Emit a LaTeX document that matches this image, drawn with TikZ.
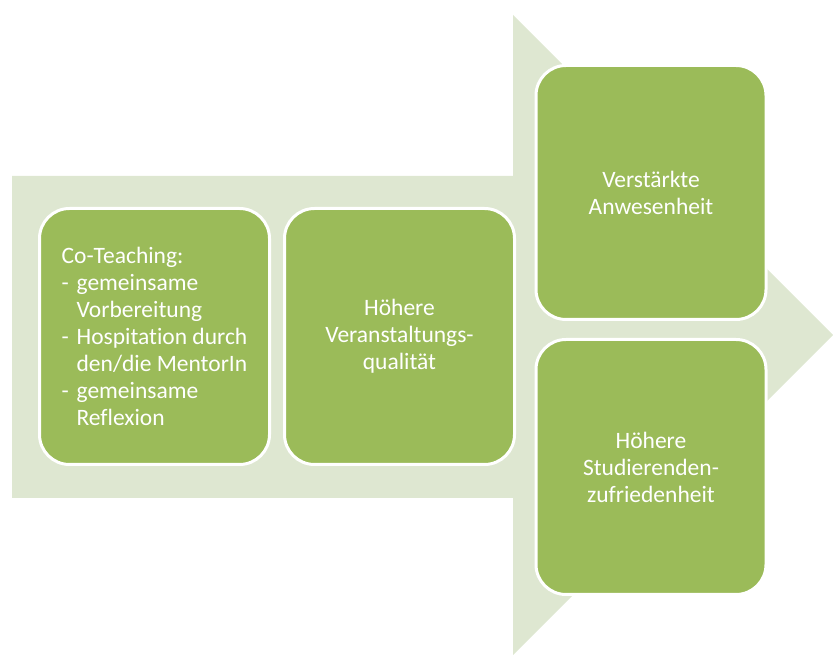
\documentclass[tikz,border=0pt]{standalone}
\usepackage{fontspec}
\setmainfont{Carlito}[Ligatures=NoCommon]
\usetikzlibrary{positioning}

\definecolor{arrowgreen}{RGB}{222,231,209}
\definecolor{boxgreen}{RGB}{155,187,89}

\def \boxw {230pt}
\def \boxh {256pt}
\def \dashind {\makebox[15pt][l]{-}}
\def \contind {\hspace*{15pt}}

\begin{document}
\begin{tikzpicture}[x=1pt, y=1pt,
  stagebox/.style={draw=white, line width=3pt, fill=boxgreen, rounded corners=30pt,
    minimum width=\boxw, minimum height=\boxh, inner sep=0pt,
    text=white, font=\fontsize{23.5}{27}\selectfont, align=center}]
\useasboundingbox (0,0) rectangle (833,655);
% big arrow behind the boxes
\fill[arrowgreen] (12,479) -- (513,479) -- (513,640) -- (833,320) -- (513,0)
  -- (513,157) -- (12,157) -- cycle;

\node[stagebox, align=left] (coteach) at (154.5,318.5)
  {Co-Teaching:\\
   \dashind gemeinsame\\
   \contind Vorbereitung\\
   \dashind Hospitation durch\\
   \contind den/die MentorIn\\
   \dashind gemeinsame\\
   \contind Reflexion};
\node[stagebox, right=12pt of coteach] (quality) {Höhere\\Veranstaltungs-\\qualität};
\node[stagebox, minimum height=254pt] (presence) at (651,462.5) {Verstärkte\\Anwesenheit};
\node[stagebox, minimum height=255pt] (satisf) at (651,188) {Höhere\\Studierenden-\\zufriedenheit};
\end{tikzpicture}
\end{document}
